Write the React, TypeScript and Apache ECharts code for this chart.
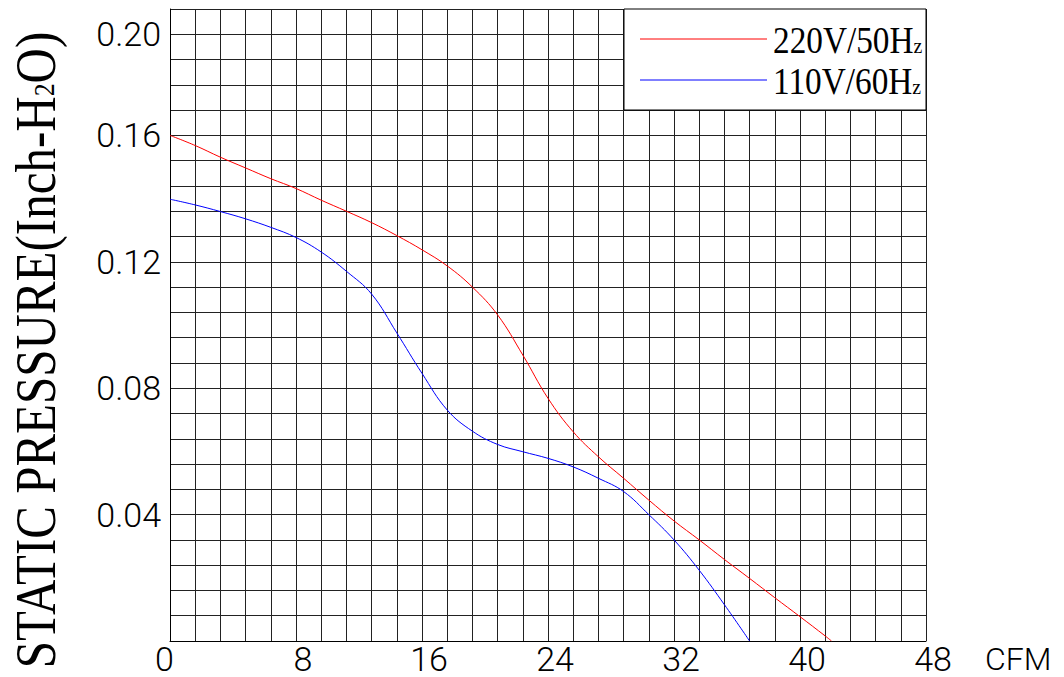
import React, { useEffect, useRef } from "react";
import * as echarts from "echarts";

// ---- data ----
const xTickValues = [0, 8, 16, 24, 32, 40, 48];
const xTickLabels = ["0", "8", "16", "24", "32", "40", "48"];
const yTickValues = [0.04, 0.08, 0.12, 0.16, 0.192];
const yTickLabels = ["0.04", "0.08", "0.12", "0.16", "0.20"];

const seriesNames = ["220V/50Hz", "110V/60Hz"];

const cfm220 = [0, 1.6, 3.2, 4.8, 6.4, 8, 9.6, 11.2, 12.8, 14.4, 16, 17.6, 19.2, 20.8, 22.4, 24, 25.6, 27.2, 28.8, 30.4, 32, 33.6, 35.2, 36.8, 38.4, 40, 41.6, 42];
const sp220 = [0.16, 0.1568, 0.1531, 0.1497, 0.1463, 0.1432, 0.1395, 0.136, 0.1324, 0.1283, 0.1238, 0.1187, 0.112, 0.1032, 0.0905, 0.0768, 0.0662, 0.0583, 0.0515, 0.0446, 0.038, 0.032, 0.0258, 0.0198, 0.0137, 0.0077, 0.0016, 0];

const cfm110 = [0, 1.6, 3.2, 4.8, 6.4, 8, 9.6, 11.2, 12.8, 14.4, 16, 17.6, 19.2, 20.8, 22.4, 24, 25.6, 27.2, 28.8, 30.4, 32, 33.6, 35.2, 36.8];
const sp110 = [0.1398, 0.138, 0.1359, 0.1336, 0.1309, 0.1277, 0.1231, 0.117, 0.1098, 0.0975, 0.0847, 0.0731, 0.0664, 0.0622, 0.0599, 0.0578, 0.0551, 0.0515, 0.0473, 0.04, 0.032, 0.0224, 0.0115, 0];

const near = (a: number, b: number) => Math.abs(a - b) < 1e-6;

export default function App() {
  const ref = useRef<HTMLDivElement>(null);
  useEffect(() => {
    if (!ref.current) return;
    const chart = echarts.init(ref.current, null, { renderer: "svg" });
    const tickFont = "Roboto";
    const legendRich = {
      a: { fontFamily: "Liberation Serif", fontSize: 37, fill: "#000" },
      b: { fontFamily: "Liberation Serif", fontSize: 22, fill: "#000", verticalAlign: "bottom", padding: [0, 0, 3, 0] },
    };
    const option: any = {
      animation: false,
      backgroundColor: "#fff",
      grid: { left: 170, top: 9, width: 756, height: 632, containLabel: false },
      xAxis: {
        type: "value",
        min: 0,
        max: 48,
        interval: 1.6,
        name: "CFM",
        nameLocation: "end",
        nameGap: 59,
        nameTextStyle: {
          fontFamily: tickFont,
          fontWeight: 300,
          fontSize: 32,
          lineHeight: 32,
          color: "#000",
          align: "left",
          verticalAlign: "top",
          padding: [2, 0, 0, 0],
        },
        axisLine: { show: true, lineStyle: { color: "#000", width: 1 } },
        axisTick: { show: false },
        splitLine: { show: true, lineStyle: { color: "#222", width: 1 } },
        axisLabel: {
          interval: 0,
          hideOverlap: false,
          margin: 1,
          formatter: (v: number) => {
            const i = xTickValues.findIndex((t) => near(t, v));
            if (i < 0) return "";
            return i === 0 ? "{z|" + xTickLabels[i] + "}" : "{p|" + xTickLabels[i] + "}";
          },
          rich: {
            p: { fontFamily: tickFont, fontWeight: 300, fontSize: 34, lineHeight: 33, color: "#000", padding: [0, 0, 0, 14] },
            z: { fontFamily: tickFont, fontWeight: 300, fontSize: 34, lineHeight: 33, color: "#000", padding: [0, 11, 0, 0] },
          },
        },
      },
      yAxis: {
        type: "value",
        min: 0,
        max: 0.2,
        interval: 0.008,
        axisLine: { show: true, lineStyle: { color: "#000", width: 1 } },
        axisTick: { show: false },
        splitLine: { show: true, lineStyle: { color: "#222", width: 1 } },
        axisLabel: {
          interval: 0,
          margin: 9,
          fontFamily: tickFont,
          fontWeight: 300,
          fontSize: 34,
          color: "#000",
          formatter: (v: number) => {
            const i = yTickValues.findIndex((t) => near(t, v));
            return i < 0 ? "" : yTickLabels[i];
          },
        },
      },
      series: [
        {
          name: seriesNames[0],
          type: "line",
          data: cfm220.map((x, i) => [x, sp220[i]]),
          showSymbol: false,
          symbol: "none",
          smooth: 0.4,
          lineStyle: { color: "#ff0000", width: 1 },
          itemStyle: { color: "#ff0000" },
          z: 5,
        },
        {
          name: seriesNames[1],
          type: "line",
          data: cfm110.map((x, i) => [x, sp110[i]]),
          showSymbol: false,
          symbol: "none",
          smooth: 0.4,
          lineStyle: { color: "#0000ff", width: 1 },
          itemStyle: { color: "#0000ff" },
          z: 5,
        },
      ],
      graphic: [
        {
          type: "rect",
          z: 50,
          shape: { x: 624, y: 9, width: 302, height: 101 },
          style: { fill: "#fff", stroke: "#000", lineWidth: 1 },
        },
        {
          type: "line",
          z: 51,
          shape: { x1: 640, y1: 39, x2: 767, y2: 39 },
          style: { stroke: "#ff0000", lineWidth: 1 },
        },
        {
          type: "line",
          z: 51,
          shape: { x1: 640, y1: 80, x2: 767, y2: 80 },
          style: { stroke: "#0000ff", lineWidth: 1 },
        },
        {
          type: "text",
          z: 51,
          x: 773,
          y: 41,
          scaleX: 0.9,
          style: {
            text: "{a|" + seriesNames[0].slice(0, -1) + "}{b|z}",
            align: "left",
            verticalAlign: "middle",
            rich: legendRich,
          },
        },
        {
          type: "text",
          z: 51,
          x: 773,
          y: 82,
          scaleX: 0.9,
          style: {
            text: "{a|" + seriesNames[1].slice(0, -1) + "}{b|z}",
            align: "left",
            verticalAlign: "middle",
            rich: legendRich,
          },
        },
        {
          type: "text",
          z: 51,
          x: 36,
          y: 350,
          rotation: Math.PI / 2,
          scaleX: 0.86,
          style: {
            text: "{a|STATIC PRESSURE(Inch-H}{s|2}{a|O)}",
            align: "center",
            verticalAlign: "middle",
            rich: {
              a: { fontFamily: "Liberation Serif", fontSize: 57, fill: "#000" },
              s: { fontFamily: "Liberation Serif", fontSize: 30, fill: "#000", verticalAlign: "bottom", padding: [0, 0, 6, 0] },
            },
          },
        },
      ],
    };
    chart.setOption(option);
    return () => chart.dispose();
  }, []);
  return (
    <div
      ref={ref}
      style={{ position: "fixed", left: 0, top: 0, width: 1064, height: 677, background: "#fff" }}
    />
  );
}
